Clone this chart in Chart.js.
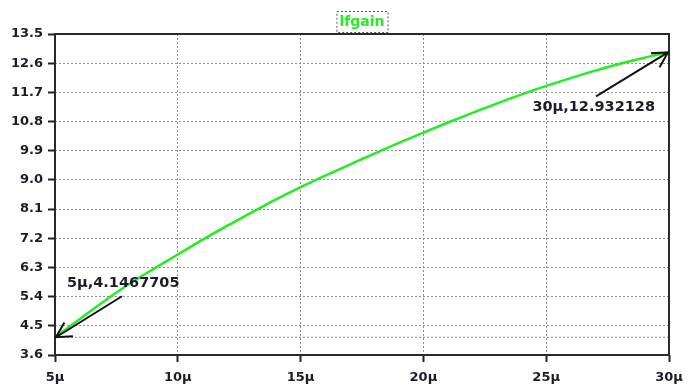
<!DOCTYPE html>
<html><head><meta charset="utf-8">
<script src="https://cdn.jsdelivr.net/npm/chart.js@4"></script>
<style>html,body{margin:0;padding:0;background:#fff}</style>
</head><body>
<canvas id="c" width="688" height="385"></canvas>
<script>
const seriesName = 'lfgain';
const timeUs = [5,6,7,8,9,10,11,12,13,14,15,16,17,18,19,20,21,22,23,24,25,26,27,28,29,30];
const gainValues = [4.1467705,4.70,5.26,5.78,6.25,6.70,7.15,7.58,7.99,8.40,8.78,9.13,9.47,9.81,10.14,10.46,10.77,11.07,11.36,11.64,11.90,12.14,12.37,12.58,12.77,12.932128];
const xTicks = [5,10,15,20,25,30];
const xTickLabels = ['5μ','10μ','15μ','20μ','25μ','30μ'];
const yTicks = [3.6,4.5,5.4,6.3,7.2,8.1,9.0,9.9,10.8,11.7,12.6,13.5];
const yTickLabels = ['3.6','4.5','5.4','6.3','7.2','8.1','9.0','9.9','10.8','11.7','12.6','13.5'];
const cursorA = {x:5, y:4.1467705, label:'5μ,4.1467705'};
const cursorB = {x:30, y:12.932128, label:'30μ,12.932128'};

const textColor = '#1c1c28';
const tickFont = {family:'DejaVu Sans', weight:'bold', size:13};

function arrow(ctx, tx, ty, fx, fy) {
  ctx.save();
  ctx.strokeStyle = '#111';
  ctx.lineWidth = 2;
  ctx.beginPath(); ctx.moveTo(fx, fy); ctx.lineTo(tx, ty); ctx.stroke();
  const ang = Math.atan2(fy - ty, fx - tx);
  const L = 17, w = 0.5;
  ctx.beginPath();
  ctx.moveTo(tx + L*Math.cos(ang+w), ty + L*Math.sin(ang+w));
  ctx.lineTo(tx, ty);
  ctx.lineTo(tx + L*Math.cos(ang-w), ty + L*Math.sin(ang-w));
  ctx.stroke();
  ctx.restore();
}

const decor = {
  id: 'decor',
  afterDatasetsDraw(chart) {
    const {ctx, chartArea:a, scales:{x, y}} = chart;
    ctx.save();
    ctx.strokeStyle = '#2a2a2a';
    ctx.lineWidth = 2;
    ctx.strokeRect(a.left, a.top, a.right - a.left, a.bottom - a.top);
    ctx.font = 'bold 14px "DejaVu Sans"';
    const tw = ctx.measureText(seriesName).width;
    const cx = (a.left + a.right) / 2;
    ctx.fillStyle = '#fff';
    ctx.fillRect(cx - tw/2 - 3, 11, tw + 6, 22);
    ctx.setLineDash([2,2]);
    ctx.lineWidth = 1;
    ctx.strokeStyle = '#555';
    ctx.strokeRect(cx - tw/2 - 3 + 0.5, 11.5, tw + 6, 21);
    ctx.setLineDash([]);
    ctx.fillStyle = '#22ee22';
    ctx.textAlign = 'center';
    ctx.textBaseline = 'middle';
    ctx.fillText(seriesName, cx, 22);
    ctx.font = 'bold 14.5px "DejaVu Sans"';
    ctx.fillStyle = textColor;
    const ax = x.getPixelForValue(cursorA.x), ay = y.getPixelForValue(cursorA.y);
    arrow(ctx, ax + 1, ay, ax + 67, ay - 41);
    ctx.textAlign = 'left';
    ctx.fillText(cursorA.label, ax + 12, ay - 54);
    const bx = x.getPixelForValue(cursorB.x), by = y.getPixelForValue(cursorB.y);
    arrow(ctx, bx - 1, by, bx - 73, by + 44);
    ctx.textAlign = 'right';
    ctx.fillText(cursorB.label, bx - 14, by + 55);
    ctx.restore();
  }
};

new Chart(document.getElementById('c'), {
  type: 'line',
  data: {
    datasets: [
      {
        label: 'cursor',
        data: [{x: xTicks[0], y: cursorA.y}, {x: xTicks[xTicks.length-1], y: cursorA.y}],
        borderColor: '#8a8a8a', borderWidth: 1, borderDash: [2,2], pointRadius: 0
      },
      {
        label: seriesName,
        data: timeUs.map((t, i) => ({x: t, y: gainValues[i]})),
        borderColor: '#22ee22', borderWidth: 2.5, pointRadius: 0,
        cubicInterpolationMode: 'monotone'
      }
    ]
  },
  options: {
    responsive: false,
    animation: false,
    devicePixelRatio: 1,
    layout: {padding: {top: 34, right: 19, left: 0, bottom: 0}},
    plugins: {legend: {display: false}, tooltip: {enabled: false}, title: {display: false}},
    scales: {
      x: {
        type: 'linear', min: xTicks[0], max: xTicks[xTicks.length-1],
        afterBuildTicks: s => { s.ticks = xTicks.map(v => ({value: v})); },
        afterFit: s => { s.height = 30; s.paddingLeft = 0; s.paddingRight = 0; },
        ticks: {
          callback: (v, i) => xTickLabels[i],
          font: tickFont, color: textColor, padding: 8, autoSkip: false, maxRotation: 0
        },
        grid: {color: '#8e8e8e', lineWidth: 1, tickLength: 7, tickColor: '#222', tickWidth: 2},
        border: {display: false, dash: [2,2]}
      },
      y: {
        type: 'linear', min: yTicks[0], max: yTicks[yTicks.length-1],
        afterBuildTicks: s => { s.ticks = yTicks.map(v => ({value: v})); },
        afterFit: s => { s.width = 55; s.paddingTop = 0; s.paddingBottom = 0; },
        ticks: {
          callback: (v, i) => yTickLabels[i],
          font: tickFont, color: textColor, padding: 5, autoSkip: false
        },
        grid: {color: '#8e8e8e', lineWidth: 1, tickLength: 7, tickColor: '#222', tickWidth: 2},
        border: {display: false, dash: [2,2]}
      }
    }
  },
  plugins: [decor]
});
</script>
</body></html>
